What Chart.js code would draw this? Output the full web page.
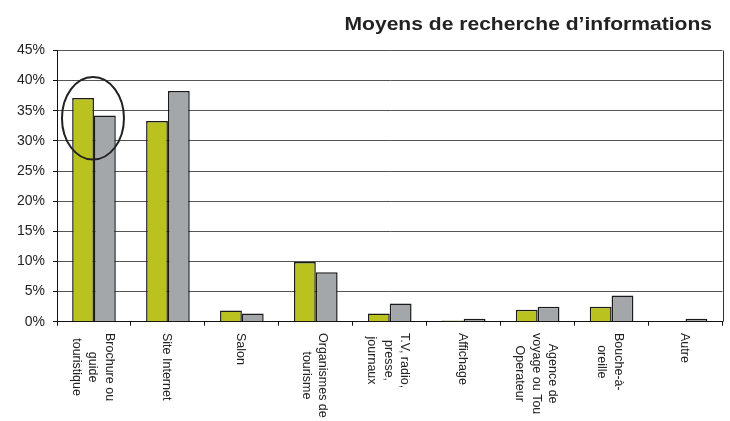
<!DOCTYPE html>
<html>
<head>
<meta charset="utf-8">
<script src="https://cdn.jsdelivr.net/npm/chart.js@4"></script>
<style>
  html, body { margin: 0; padding: 0; background: #fff; }
  #wrap { width: 730px; height: 421px; }
</style>
</head>
<body>
<div id="wrap"><canvas id="chart" width="730" height="421"></canvas></div>
<script>
const chartTitle = 'Moyens de recherche d\u2019informations';

const categories = [
    ['Brochure ou', 'guide', 'touristique'],
    ['Site Internet'],
    ['Salon'],
    ['Organismes de', 'tourisme'],
    ['T.V, radio,', 'presse,', 'journaux'],
    ['Affichage'],
    ['Agence de', 'voyage ou Tou', 'Operateur'],
    ['Bouche-\u00e0-', 'oreille'],
    ['Autre']
];

const seriesA = [37.1, 33.3, 1.85, 9.9, 1.35, 0.2, 2.0, 2.5, 0];
const seriesB = [34.2, 38.3, 1.35, 8.2, 3.0, 0.5, 2.5, 4.35, 0.5];

const yTicks = [0, 5, 10, 15, 20, 25, 30, 35, 40, 45];

// circled group (first category), range in % on the y scale
const circleCategory = 0;
const circleRange = [26.9, 40.6];

const decorPlugin = {
    id: 'decor',
    afterDatasetsDraw(chart) {
        const ctx = chart.ctx;
        const x = chart.scales.x;
        const y = chart.scales.y;
        const area = chart.chartArea;

        // right border of the plot
        ctx.save();
        ctx.strokeStyle = '#333';
        ctx.lineWidth = 1;
        ctx.beginPath();
        ctx.moveTo(Math.round(area.right) + 0.5, area.top);
        ctx.lineTo(Math.round(area.right) + 0.5, area.bottom);
        ctx.stroke();

        // ellipse around the first group
        const top = y.getPixelForValue(circleRange[1]);
        const bottom = y.getPixelForValue(circleRange[0]);
        const cx = x.getPixelForValue(circleCategory) - 1;
        ctx.strokeStyle = '#222';
        ctx.lineWidth = 2;
        ctx.beginPath();
        ctx.ellipse(cx, (top + bottom) / 2, 31, (bottom - top) / 2, 0, 0, Math.PI * 2);
        ctx.stroke();
        ctx.restore();
    },
    afterDraw(chart) {
        const ctx = chart.ctx;
        const x = chart.scales.x;

        // title, right aligned
        ctx.save();
        ctx.fillStyle = '#222';
        ctx.font = 'bold 18px "Liberation Sans", Arial, sans-serif';
        ctx.textAlign = 'right';
        ctx.textBaseline = 'alphabetic';
        ctx.translate(712, 29.5);
        ctx.scale(1.17, 1);
        ctx.fillText(chartTitle, 0, 0);
        ctx.restore();

        // category labels, turned a quarter clockwise
        ctx.save();
        ctx.fillStyle = '#222';
        ctx.font = '12.5px "Liberation Sans", Arial, sans-serif';
        ctx.textAlign = 'center';
        ctx.textBaseline = 'middle';
        const lineH = 16.5;
        categories.forEach((lines, i) => {
            const cx = x.getPixelForValue(i) - 1.5;
            const maxW = Math.max(...lines.map(l => ctx.measureText(l).width));
            ctx.save();
            ctx.translate(cx, 333);
            ctx.rotate(Math.PI / 2);
            lines.forEach((l, k) => {
                const off = -((lines.length - 1) / 2 - k) * lineH;
                ctx.fillText(l, maxW / 2, off);
            });
            ctx.restore();
        });
        ctx.restore();
    }
};

const ctx = document.getElementById('chart').getContext('2d');

const chart = new Chart(ctx, {
    type: 'bar',
    data: {
        labels: categories,
        datasets: [
            {
                label: 'S\u00e9rie 1',
                data: seriesA,
                backgroundColor: '#b9c21e',
                borderColor: '#1a1a1a',
                borderWidth: 1.5
            },
            {
                label: 'S\u00e9rie 2',
                data: seriesB,
                backgroundColor: '#a4a7aa',
                borderColor: '#1a1a1a',
                borderWidth: 1.5
            }
        ]
    },
    options: {
        responsive: false,
        animation: false,
        layout: {
            padding: { left: 0, right: 7.5, top: 50.5, bottom: 0 }
        },
        datasets: {
            bar: {
                categoryPercentage: 0.59,
                barPercentage: 1
            }
        },
        plugins: {
            legend: { display: false },
            title: { display: false },
            tooltip: { enabled: false }
        },
        scales: {
            x: {
                offset: true,
                afterFit: s => { s.height = 99.3; },
                border: { color: '#111', width: 1 },
                grid: {
                    offset: true,
                    drawOnChartArea: false,
                    drawTicks: true,
                    tickLength: 4,
                    tickColor: '#111'
                },
                ticks: { display: false }
            },
            y: {
                min: 0,
                max: 45,
                afterFit: s => { s.width = 57; },
                afterBuildTicks: s => { s.ticks = yTicks.map(v => ({ value: v })); },
                border: { color: '#111', width: 1 },
                grid: {
                    color: '#555',
                    lineWidth: 1,
                    tickLength: 4,
                    tickColor: '#111'
                },
                ticks: {
                    padding: 8,
                    color: '#222',
                    font: { family: '"Liberation Sans", Arial, sans-serif', size: 14 },
                    callback: v => v + '%'
                }
            }
        }
    },
    plugins: [decorPlugin]
});
</script>
</body>
</html>
